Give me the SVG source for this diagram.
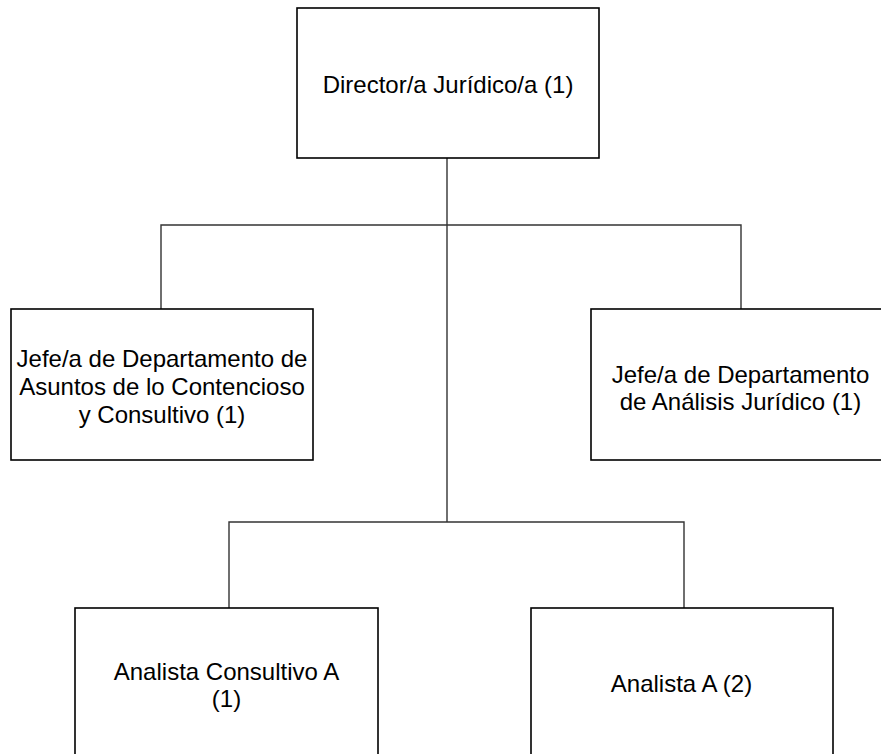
<svg xmlns="http://www.w3.org/2000/svg" width="881" height="754" viewBox="0 0 881 754">
<style>
.box{fill:#fff;stroke:#000;stroke-width:1.6}
.lbl{font-family:"Liberation Sans",Arial,sans-serif;font-size:24px;fill:#000;text-anchor:middle}
.conn{fill:none;stroke:#333;stroke-width:1.4}
</style>
<rect width="881" height="754" fill="#fff"/>
<g id="connectors">
<path class="conn" d="M447,158 V522"/>
<path class="conn" d="M161,309 V225 H741 V309"/>
<path class="conn" d="M229,608 V522 H684 V608"/>
</g>
<g id="director">
<rect class="box" x="297" y="8" width="302" height="150"/>
<text class="lbl" x="448" y="93">Director/a Jurídico/a (1)</text>
</g>
<g id="jefe-contencioso">
<rect class="box" x="11" y="309" width="302" height="151"/>
<text class="lbl" x="162" y="367">Jefe/a de Departamento de</text>
<text class="lbl" x="162" y="395">Asuntos de lo Contencioso</text>
<text class="lbl" x="162" y="423">y Consultivo (1)</text>
</g>
<g id="jefe-analisis">
<rect class="box" x="591" y="309" width="300" height="151"/>
<text class="lbl" x="740.5" y="383">Jefe/a de Departamento</text>
<text class="lbl" x="740.5" y="410">de Análisis Jurídico (1)</text>
</g>
<g id="analista-consultivo">
<rect class="box" x="75" y="608" width="303" height="160"/>
<text class="lbl" x="226.5" y="680">Analista Consultivo A</text>
<text class="lbl" x="226.5" y="707">(1)</text>
</g>
<g id="analista-a">
<rect class="box" x="531" y="608" width="302" height="160"/>
<text class="lbl" x="681.5" y="692">Analista A (2)</text>
</g>
</svg>
